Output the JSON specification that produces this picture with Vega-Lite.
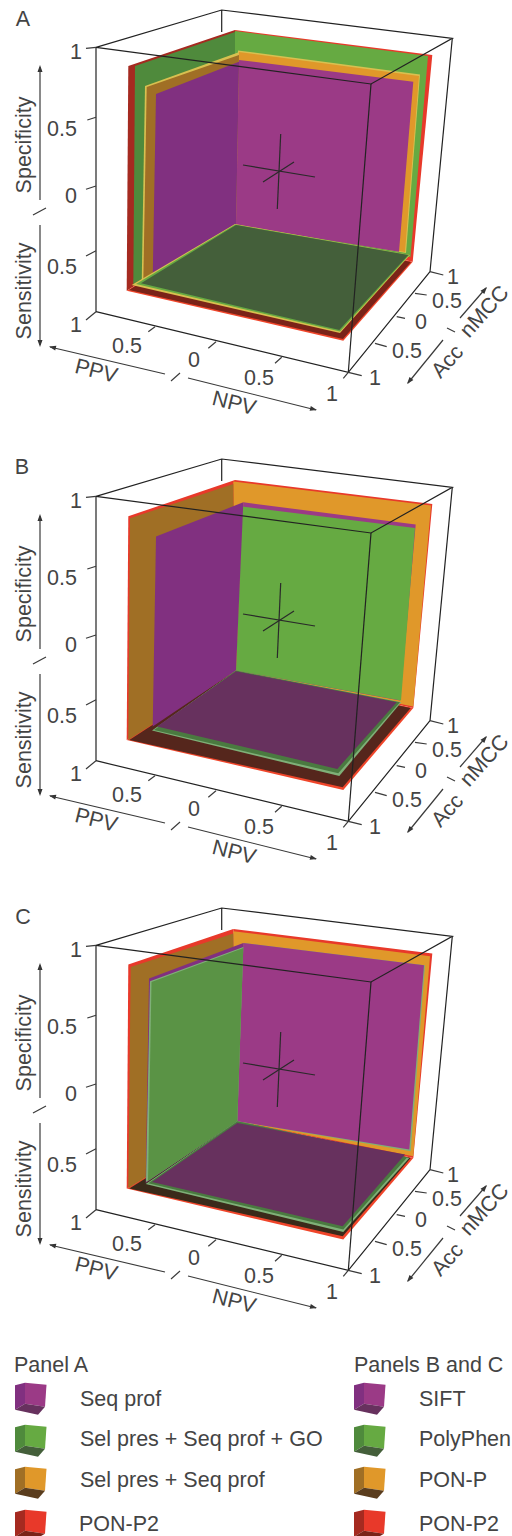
{"$schema":"https://vega.github.io/schema/vega-lite/v6.json","padding":0,"spacing":0,"config":{"view":{"stroke":null},"text":{"font":"Liberation Sans"}},
"datasets":{"panels":[
{"kind":"poly","panels":["A"],"shape":"a01","v":0,"x":235,"y":30,"paint":"R back"},{"kind":"poly","panels":["A"],"shape":"a01","v":1,"x":432.3,"y":55,"paint":"R back"},{"kind":"poly","panels":["A"],"shape":"a01","v":2,"x":412.7,"y":261.7,"paint":"R back"},{"kind":"poly","panels":["A"],"shape":"a01","v":3,"x":235,"y":224,"paint":"R back"},
{"kind":"poly","panels":["A"],"shape":"a02","v":0,"x":128.3,"y":66,"paint":"R left"},{"kind":"poly","panels":["A"],"shape":"a02","v":1,"x":235,"y":30,"paint":"R left"},{"kind":"poly","panels":["A"],"shape":"a02","v":2,"x":235,"y":224,"paint":"R left"},{"kind":"poly","panels":["A"],"shape":"a02","v":3,"x":126.7,"y":290.7,"paint":"R left"},
{"kind":"poly","panels":["A"],"shape":"a03","v":0,"x":126.7,"y":290.7,"paint":"R edge"},{"kind":"poly","panels":["A"],"shape":"a03","v":1,"x":235,"y":224,"paint":"R edge"},{"kind":"poly","panels":["A"],"shape":"a03","v":2,"x":412.7,"y":261.7,"paint":"R edge"},{"kind":"poly","panels":["A"],"shape":"a03","v":3,"x":343.3,"y":340.7,"paint":"R edge"},
{"kind":"poly","panels":["A"],"shape":"a04","v":0,"x":129,"y":290,"paint":"R floor"},{"kind":"poly","panels":["A"],"shape":"a04","v":1,"x":235,"y":224,"paint":"R floor"},{"kind":"poly","panels":["A"],"shape":"a04","v":2,"x":411,"y":262,"paint":"R floor"},{"kind":"poly","panels":["A"],"shape":"a04","v":3,"x":343,"y":339,"paint":"R floor"},
{"kind":"poly","panels":["A"],"shape":"a05","v":0,"x":235,"y":31,"paint":"G back"},{"kind":"poly","panels":["A"],"shape":"a05","v":1,"x":428,"y":56,"paint":"G back"},{"kind":"poly","panels":["A"],"shape":"a05","v":2,"x":410.5,"y":257,"paint":"G back"},{"kind":"poly","panels":["A"],"shape":"a05","v":3,"x":235,"y":224,"paint":"G back"},
{"kind":"poly","panels":["A"],"shape":"a06","v":0,"x":135,"y":66,"paint":"G left"},{"kind":"poly","panels":["A"],"shape":"a06","v":1,"x":235,"y":32,"paint":"G left"},{"kind":"poly","panels":["A"],"shape":"a06","v":2,"x":235,"y":224,"paint":"G left"},{"kind":"poly","panels":["A"],"shape":"a06","v":3,"x":133.3,"y":285,"paint":"G left"},
{"kind":"poly","panels":["A"],"shape":"a07","v":0,"x":238,"y":50.5,"paint":"O edge"},{"kind":"poly","panels":["A"],"shape":"a07","v":1,"x":420,"y":74.5,"paint":"O edge"},{"kind":"poly","panels":["A"],"shape":"a07","v":2,"x":406,"y":253,"paint":"O edge"},{"kind":"poly","panels":["A"],"shape":"a07","v":3,"x":236,"y":224,"paint":"O edge"},
{"kind":"poly","panels":["A"],"shape":"a08","v":0,"x":145,"y":86,"paint":"O edge"},{"kind":"poly","panels":["A"],"shape":"a08","v":1,"x":238,"y":52.5,"paint":"O edge"},{"kind":"poly","panels":["A"],"shape":"a08","v":2,"x":236,"y":224,"paint":"O edge"},{"kind":"poly","panels":["A"],"shape":"a08","v":3,"x":141.7,"y":283,"paint":"O edge"},
{"kind":"poly","panels":["A"],"shape":"a09","v":0,"x":239,"y":52,"paint":"O back"},{"kind":"poly","panels":["A"],"shape":"a09","v":1,"x":419,"y":76,"paint":"O back"},{"kind":"poly","panels":["A"],"shape":"a09","v":2,"x":405,"y":252,"paint":"O back"},{"kind":"poly","panels":["A"],"shape":"a09","v":3,"x":236,"y":224,"paint":"O back"},
{"kind":"poly","panels":["A"],"shape":"a10","v":0,"x":146.7,"y":87,"paint":"O left"},{"kind":"poly","panels":["A"],"shape":"a10","v":1,"x":239,"y":55,"paint":"O left"},{"kind":"poly","panels":["A"],"shape":"a10","v":2,"x":236,"y":224,"paint":"O left"},{"kind":"poly","panels":["A"],"shape":"a10","v":3,"x":143.3,"y":282,"paint":"O left"},
{"kind":"poly","panels":["A"],"shape":"a11","v":0,"x":239,"y":60,"paint":"P back"},{"kind":"poly","panels":["A"],"shape":"a11","v":1,"x":413.3,"y":81.7,"paint":"P back"},{"kind":"poly","panels":["A"],"shape":"a11","v":2,"x":399,"y":251.7,"paint":"P back"},{"kind":"poly","panels":["A"],"shape":"a11","v":3,"x":236,"y":225,"paint":"P back"},
{"kind":"poly","panels":["A"],"shape":"a12","v":0,"x":156,"y":94,"paint":"P left"},{"kind":"poly","panels":["A"],"shape":"a12","v":1,"x":239,"y":61.7,"paint":"P left"},{"kind":"poly","panels":["A"],"shape":"a12","v":2,"x":236,"y":225,"paint":"P left"},{"kind":"poly","panels":["A"],"shape":"a12","v":3,"x":152.7,"y":278.3,"paint":"P left"},
{"kind":"poly","panels":["A"],"shape":"a13","v":0,"x":131.7,"y":285,"paint":"O edge"},{"kind":"poly","panels":["A"],"shape":"a13","v":1,"x":235,"y":224,"paint":"O edge"},{"kind":"poly","panels":["A"],"shape":"a13","v":2,"x":410,"y":255,"paint":"O edge"},{"kind":"poly","panels":["A"],"shape":"a13","v":3,"x":340,"y":333,"paint":"O edge"},
{"kind":"poly","panels":["A"],"shape":"a14","v":0,"x":136,"y":284,"paint":"G back"},{"kind":"poly","panels":["A"],"shape":"a14","v":1,"x":235.3,"y":224.5,"paint":"G back"},{"kind":"poly","panels":["A"],"shape":"a14","v":2,"x":409.3,"y":255,"paint":"G back"},{"kind":"poly","panels":["A"],"shape":"a14","v":3,"x":340,"y":331.5,"paint":"G back"},
{"kind":"poly","panels":["A"],"shape":"a15","v":0,"x":141,"y":283.3,"paint":"G floor"},{"kind":"poly","panels":["A"],"shape":"a15","v":1,"x":236,"y":225,"paint":"G floor"},{"kind":"poly","panels":["A"],"shape":"a15","v":2,"x":408.3,"y":255,"paint":"G floor"},{"kind":"poly","panels":["A"],"shape":"a15","v":3,"x":339.3,"y":330,"paint":"G floor"},

{"kind":"poly","panels":["B"],"shape":"b01","v":0,"x":235,"y":30.9,"paint":"R back"},{"kind":"poly","panels":["B"],"shape":"b01","v":1,"x":432.3,"y":54.9,"paint":"R back"},{"kind":"poly","panels":["B"],"shape":"b01","v":2,"x":413.3,"y":258.9,"paint":"R back"},{"kind":"poly","panels":["B"],"shape":"b01","v":3,"x":235,"y":221.6,"paint":"R back"},
{"kind":"poly","panels":["B"],"shape":"b02","v":0,"x":128.3,"y":67.3,"paint":"R back"},{"kind":"poly","panels":["B"],"shape":"b02","v":1,"x":235,"y":30.9,"paint":"R back"},{"kind":"poly","panels":["B"],"shape":"b02","v":2,"x":235,"y":221.6,"paint":"R back"},{"kind":"poly","panels":["B"],"shape":"b02","v":3,"x":126.7,"y":290.9,"paint":"R back"},
{"kind":"poly","panels":["B"],"shape":"b03","v":0,"x":126.7,"y":290.9,"paint":"R edge"},{"kind":"poly","panels":["B"],"shape":"b03","v":1,"x":235,"y":221.6,"paint":"R edge"},{"kind":"poly","panels":["B"],"shape":"b03","v":2,"x":413.3,"y":258.9,"paint":"R edge"},{"kind":"poly","panels":["B"],"shape":"b03","v":3,"x":343.3,"y":340.9,"paint":"R edge"},
{"kind":"poly","panels":["B"],"shape":"b04","v":0,"x":233.3,"y":32.6,"paint":"O back"},{"kind":"poly","panels":["B"],"shape":"b04","v":1,"x":431,"y":56.6,"paint":"O back"},{"kind":"poly","panels":["B"],"shape":"b04","v":2,"x":413.3,"y":257.6,"paint":"O back"},{"kind":"poly","panels":["B"],"shape":"b04","v":3,"x":235,"y":221.6,"paint":"O back"},
{"kind":"poly","panels":["B"],"shape":"b05","v":0,"x":130,"y":69.3,"paint":"O left"},{"kind":"poly","panels":["B"],"shape":"b05","v":1,"x":233.3,"y":34.9,"paint":"O left"},{"kind":"poly","panels":["B"],"shape":"b05","v":2,"x":235,"y":221.6,"paint":"O left"},{"kind":"poly","panels":["B"],"shape":"b05","v":3,"x":128.3,"y":290.9,"paint":"O left"},
{"kind":"poly","panels":["B"],"shape":"b06","v":0,"x":129.3,"y":290.9,"paint":"B floor"},{"kind":"poly","panels":["B"],"shape":"b06","v":1,"x":235,"y":222.3,"paint":"B floor"},{"kind":"poly","panels":["B"],"shape":"b06","v":2,"x":410.7,"y":258.9,"paint":"B floor"},{"kind":"poly","panels":["B"],"shape":"b06","v":3,"x":342.7,"y":338.3,"paint":"B floor"},
{"kind":"poly","panels":["B"],"shape":"b07","v":0,"x":243.3,"y":53.3,"paint":"P back"},{"kind":"poly","panels":["B"],"shape":"b07","v":1,"x":415.7,"y":75.6,"paint":"P back"},{"kind":"poly","panels":["B"],"shape":"b07","v":2,"x":400,"y":251.6,"paint":"P back"},{"kind":"poly","panels":["B"],"shape":"b07","v":3,"x":236.7,"y":221.6,"paint":"P back"},
{"kind":"poly","panels":["B"],"shape":"b08","v":0,"x":242.3,"y":57.6,"paint":"G back"},{"kind":"poly","panels":["B"],"shape":"b08","v":1,"x":415,"y":78.9,"paint":"G back"},{"kind":"poly","panels":["B"],"shape":"b08","v":2,"x":401,"y":251.6,"paint":"G back"},{"kind":"poly","panels":["B"],"shape":"b08","v":3,"x":236,"y":221.6,"paint":"G back"},
{"kind":"poly","panels":["B"],"shape":"b09","v":0,"x":156,"y":87.6,"paint":"P left"},{"kind":"poly","panels":["B"],"shape":"b09","v":1,"x":243.3,"y":53.3,"paint":"P left"},{"kind":"poly","panels":["B"],"shape":"b09","v":2,"x":236,"y":221.6,"paint":"P left"},{"kind":"poly","panels":["B"],"shape":"b09","v":3,"x":152.7,"y":277.6,"paint":"P left"},
{"kind":"poly","panels":["B"],"shape":"b10","v":0,"x":152,"y":281.6,"paint":"G light"},{"kind":"poly","panels":["B"],"shape":"b10","v":1,"x":236,"y":221.6,"paint":"G light"},{"kind":"poly","panels":["B"],"shape":"b10","v":2,"x":401.3,"y":253.3,"paint":"G light"},{"kind":"poly","panels":["B"],"shape":"b10","v":3,"x":339.3,"y":326.9,"paint":"G light"},
{"kind":"poly","panels":["B"],"shape":"b11","v":0,"x":154,"y":280.9,"paint":"G dark"},{"kind":"poly","panels":["B"],"shape":"b11","v":1,"x":236,"y":221.6,"paint":"G dark"},{"kind":"poly","panels":["B"],"shape":"b11","v":2,"x":400,"y":253.3,"paint":"G dark"},{"kind":"poly","panels":["B"],"shape":"b11","v":3,"x":338.3,"y":324.3,"paint":"G dark"},
{"kind":"poly","panels":["B"],"shape":"b12","v":0,"x":157,"y":277.6,"paint":"P floor"},{"kind":"poly","panels":["B"],"shape":"b12","v":1,"x":236,"y":222.3,"paint":"P floor"},{"kind":"poly","panels":["B"],"shape":"b12","v":2,"x":396.7,"y":253.3,"paint":"P floor"},{"kind":"poly","panels":["B"],"shape":"b12","v":3,"x":337.3,"y":319.9,"paint":"P floor"},

{"kind":"poly","panels":["C"],"shape":"c01","v":0,"x":233.3,"y":30.9,"paint":"R back"},{"kind":"poly","panels":["C"],"shape":"c01","v":1,"x":432.3,"y":55.5,"paint":"R back"},{"kind":"poly","panels":["C"],"shape":"c01","v":2,"x":413.3,"y":259.9,"paint":"R back"},{"kind":"poly","panels":["C"],"shape":"c01","v":3,"x":237.3,"y":223.2,"paint":"R back"},
{"kind":"poly","panels":["C"],"shape":"c02","v":0,"x":128.3,"y":66.5,"paint":"R back"},{"kind":"poly","panels":["C"],"shape":"c02","v":1,"x":233.3,"y":30.9,"paint":"R back"},{"kind":"poly","panels":["C"],"shape":"c02","v":2,"x":237.3,"y":223.2,"paint":"R back"},{"kind":"poly","panels":["C"],"shape":"c02","v":3,"x":126.7,"y":290.5,"paint":"R back"},
{"kind":"poly","panels":["C"],"shape":"c03","v":0,"x":126.7,"y":290.5,"paint":"R edge"},{"kind":"poly","panels":["C"],"shape":"c03","v":1,"x":237.3,"y":223.2,"paint":"R edge"},{"kind":"poly","panels":["C"],"shape":"c03","v":2,"x":413.3,"y":259.9,"paint":"R edge"},{"kind":"poly","panels":["C"],"shape":"c03","v":3,"x":343.3,"y":341.5,"paint":"R edge"},
{"kind":"poly","panels":["C"],"shape":"c04","v":0,"x":233.3,"y":33.2,"paint":"O back"},{"kind":"poly","panels":["C"],"shape":"c04","v":1,"x":430,"y":58.2,"paint":"O back"},{"kind":"poly","panels":["C"],"shape":"c04","v":2,"x":413.3,"y":258.2,"paint":"O back"},{"kind":"poly","panels":["C"],"shape":"c04","v":3,"x":237.3,"y":223.2,"paint":"O back"},
{"kind":"poly","panels":["C"],"shape":"c05","v":0,"x":130.7,"y":68.9,"paint":"O left"},{"kind":"poly","panels":["C"],"shape":"c05","v":1,"x":233.3,"y":35.5,"paint":"O left"},{"kind":"poly","panels":["C"],"shape":"c05","v":2,"x":237.3,"y":223.2,"paint":"O left"},{"kind":"poly","panels":["C"],"shape":"c05","v":3,"x":128.3,"y":289.9,"paint":"O left"},
{"kind":"poly","panels":["C"],"shape":"c06","v":0,"x":129.3,"y":290.5,"paint":"C floor"},{"kind":"poly","panels":["C"],"shape":"c06","v":1,"x":237.3,"y":223.2,"paint":"C floor"},{"kind":"poly","panels":["C"],"shape":"c06","v":2,"x":410.7,"y":259.9,"paint":"C floor"},{"kind":"poly","panels":["C"],"shape":"c06","v":3,"x":342.7,"y":338.2,"paint":"C floor"},
{"kind":"poly","panels":["C"],"shape":"c07","v":0,"x":243.3,"y":44.9,"paint":"G light"},{"kind":"poly","panels":["C"],"shape":"c07","v":1,"x":425,"y":67.2,"paint":"G light"},{"kind":"poly","panels":["C"],"shape":"c07","v":2,"x":410.7,"y":253.2,"paint":"G light"},{"kind":"poly","panels":["C"],"shape":"c07","v":3,"x":237.3,"y":223.2,"paint":"G light"},
{"kind":"poly","panels":["C"],"shape":"c08","v":0,"x":243.3,"y":44.9,"paint":"P back"},{"kind":"poly","panels":["C"],"shape":"c08","v":1,"x":424,"y":67.2,"paint":"P back"},{"kind":"poly","panels":["C"],"shape":"c08","v":2,"x":409.3,"y":251.5,"paint":"P back"},{"kind":"poly","panels":["C"],"shape":"c08","v":3,"x":237.3,"y":223.2,"paint":"P back"},
{"kind":"poly","panels":["C"],"shape":"c09","v":0,"x":149,"y":80.5,"paint":"P left"},{"kind":"poly","panels":["C"],"shape":"c09","v":1,"x":243.3,"y":44.9,"paint":"P left"},{"kind":"poly","panels":["C"],"shape":"c09","v":2,"x":237.3,"y":223.2,"paint":"P left"},{"kind":"poly","panels":["C"],"shape":"c09","v":3,"x":145.7,"y":284.9,"paint":"P left"},
{"kind":"poly","panels":["C"],"shape":"c10","v":0,"x":150,"y":83.2,"paint":"G light"},{"kind":"poly","panels":["C"],"shape":"c10","v":1,"x":243.3,"y":48.9,"paint":"G light"},{"kind":"poly","panels":["C"],"shape":"c10","v":2,"x":237.3,"y":223.2,"paint":"G light"},{"kind":"poly","panels":["C"],"shape":"c10","v":3,"x":146,"y":284,"paint":"G light"},
{"kind":"poly","panels":["C"],"shape":"c11","v":0,"x":151.5,"y":84,"paint":"G wall"},{"kind":"poly","panels":["C"],"shape":"c11","v":1,"x":243.3,"y":50,"paint":"G wall"},{"kind":"poly","panels":["C"],"shape":"c11","v":2,"x":237.3,"y":223.2,"paint":"G wall"},{"kind":"poly","panels":["C"],"shape":"c11","v":3,"x":148,"y":283,"paint":"G wall"},
{"kind":"poly","panels":["C"],"shape":"c12","v":0,"x":145.7,"y":285.9,"paint":"G light"},{"kind":"poly","panels":["C"],"shape":"c12","v":1,"x":237.3,"y":223.2,"paint":"G light"},{"kind":"poly","panels":["C"],"shape":"c12","v":2,"x":409.3,"y":259.9,"paint":"G light"},{"kind":"poly","panels":["C"],"shape":"c12","v":3,"x":343.3,"y":333.9,"paint":"G light"},
{"kind":"poly","panels":["C"],"shape":"c13","v":0,"x":148.3,"y":285.2,"paint":"G dark"},{"kind":"poly","panels":["C"],"shape":"c13","v":1,"x":237.3,"y":223.2,"paint":"G dark"},{"kind":"poly","panels":["C"],"shape":"c13","v":2,"x":407.3,"y":259.2,"paint":"G dark"},{"kind":"poly","panels":["C"],"shape":"c13","v":3,"x":343.3,"y":331.5,"paint":"G dark"},
{"kind":"poly","panels":["C"],"shape":"c14","v":0,"x":152,"y":283.9,"paint":"P floor"},{"kind":"poly","panels":["C"],"shape":"c14","v":1,"x":237.3,"y":224.9,"paint":"P floor"},{"kind":"poly","panels":["C"],"shape":"c14","v":2,"x":405,"y":256.5,"paint":"P floor"},{"kind":"poly","panels":["C"],"shape":"c14","v":3,"x":342.7,"y":328.2,"paint":"P floor"},

{"kind":"line","panels":["A","B","C"],"shape":"f1","v":0,"x":96,"y":47.3,"paint":"frame"},{"kind":"line","panels":["A","B","C"],"shape":"f1","v":1,"x":221.7,"y":10,"paint":"frame"},{"kind":"line","panels":["A","B","C"],"shape":"f1","v":2,"x":452.3,"y":38.3,"paint":"frame"},{"kind":"line","panels":["A","B","C"],"shape":"f1","v":3,"x":371,"y":84,"paint":"frame"},{"kind":"line","panels":["A","B","C"],"shape":"f1","v":4,"x":96,"y":47.3,"paint":"frame"},
{"kind":"line","panels":["A","B","C"],"shape":"f2","v":0,"x":96,"y":47.3,"paint":"frame"},{"kind":"line","panels":["A","B","C"],"shape":"f2","v":1,"x":96,"y":311.7,"paint":"frame"},
{"kind":"line","panels":["A","B","C"],"shape":"f3","v":0,"x":371,"y":84,"paint":"frame"},{"kind":"line","panels":["A","B","C"],"shape":"f3","v":1,"x":348.3,"y":372.3,"paint":"frame"},
{"kind":"line","panels":["A","B","C"],"shape":"f4","v":0,"x":452.3,"y":38.3,"paint":"frame"},{"kind":"line","panels":["A","B","C"],"shape":"f4","v":1,"x":430,"y":271.7,"paint":"frame"},
{"kind":"line","panels":["A","B","C"],"shape":"f5","v":0,"x":96,"y":311.7,"paint":"frame"},{"kind":"line","panels":["A","B","C"],"shape":"f5","v":1,"x":348.3,"y":372.3,"paint":"frame"},{"kind":"line","panels":["A","B","C"],"shape":"f5","v":2,"x":430,"y":271.7,"paint":"frame"},
{"kind":"line","panels":["A","B","C"],"shape":"f6","v":0,"x":221.7,"y":10,"paint":"frame"},{"kind":"line","panels":["A","B","C"],"shape":"f6","v":1,"x":221.7,"y":32,"paint":"frame"},
{"kind":"line","panels":["A","B","C"],"shape":"t01","v":0,"x":86,"y":48.3,"paint":"tick"},{"kind":"line","panels":["A","B","C"],"shape":"t01","v":1,"x":96,"y":47.3,"paint":"tick"},
{"kind":"line","panels":["A","B","C"],"shape":"t02","v":0,"x":87.3,"y":120,"paint":"tick"},{"kind":"line","panels":["A","B","C"],"shape":"t02","v":1,"x":96,"y":117.3,"paint":"tick"},
{"kind":"line","panels":["A","B","C"],"shape":"t03","v":0,"x":86,"y":189.3,"paint":"tick"},{"kind":"line","panels":["A","B","C"],"shape":"t03","v":1,"x":96,"y":186,"paint":"tick"},
{"kind":"line","panels":["A","B","C"],"shape":"t04","v":0,"x":86,"y":256,"paint":"tick"},{"kind":"line","panels":["A","B","C"],"shape":"t04","v":1,"x":96,"y":250.7,"paint":"tick"},
{"kind":"line","panels":["A","B","C"],"shape":"t05","v":0,"x":86,"y":320,"paint":"tick"},{"kind":"line","panels":["A","B","C"],"shape":"t05","v":1,"x":96,"y":311.7,"paint":"tick"},
{"kind":"line","panels":["A","B","C"],"shape":"t06","v":0,"x":155,"y":326.7,"paint":"tick"},{"kind":"line","panels":["A","B","C"],"shape":"t06","v":1,"x":148.3,"y":331.7,"paint":"tick"},
{"kind":"line","panels":["A","B","C"],"shape":"t07","v":0,"x":216,"y":341.7,"paint":"tick"},{"kind":"line","panels":["A","B","C"],"shape":"t07","v":1,"x":208.3,"y":348.3,"paint":"tick"},
{"kind":"line","panels":["A","B","C"],"shape":"t08","v":0,"x":281.7,"y":357.3,"paint":"tick"},{"kind":"line","panels":["A","B","C"],"shape":"t08","v":1,"x":275,"y":363.3,"paint":"tick"},
{"kind":"line","panels":["A","B","C"],"shape":"t09","v":0,"x":348.3,"y":372.3,"paint":"tick"},{"kind":"line","panels":["A","B","C"],"shape":"t09","v":1,"x":343.3,"y":378.3,"paint":"tick"},
{"kind":"line","panels":["A","B","C"],"shape":"t10","v":0,"x":348.3,"y":372.3,"paint":"tick"},{"kind":"line","panels":["A","B","C"],"shape":"t10","v":1,"x":361.7,"y":375.7,"paint":"tick"},
{"kind":"line","panels":["A","B","C"],"shape":"t11","v":0,"x":375,"y":343.3,"paint":"tick"},{"kind":"line","panels":["A","B","C"],"shape":"t11","v":1,"x":386.7,"y":346.7,"paint":"tick"},
{"kind":"line","panels":["A","B","C"],"shape":"t12","v":0,"x":396.7,"y":316.7,"paint":"tick"},{"kind":"line","panels":["A","B","C"],"shape":"t12","v":1,"x":405,"y":318.3,"paint":"tick"},
{"kind":"line","panels":["A","B","C"],"shape":"t13","v":0,"x":415,"y":293.3,"paint":"tick"},{"kind":"line","panels":["A","B","C"],"shape":"t13","v":1,"x":426.7,"y":295,"paint":"tick"},
{"kind":"line","panels":["A","B","C"],"shape":"t14","v":0,"x":430,"y":271.7,"paint":"tick"},{"kind":"line","panels":["A","B","C"],"shape":"t14","v":1,"x":443.3,"y":275,"paint":"tick"},
{"kind":"line","panels":["A","B","C"],"shape":"x1","v":0,"x":280.7,"y":134,"paint":"cross"},{"kind":"line","panels":["A","B","C"],"shape":"x1","v":1,"x":277.3,"y":209,"paint":"cross"},
{"kind":"line","panels":["A","B","C"],"shape":"x2","v":0,"x":243,"y":165,"paint":"cross"},{"kind":"line","panels":["A","B","C"],"shape":"x2","v":1,"x":315,"y":177,"paint":"cross"},
{"kind":"line","panels":["A","B","C"],"shape":"x3","v":0,"x":263,"y":182,"paint":"cross"},{"kind":"line","panels":["A","B","C"],"shape":"x3","v":1,"x":294,"y":162,"paint":"cross"},
{"kind":"line","panels":["A","B","C"],"shape":"r1","v":0,"x":40,"y":67,"paint":"tick"},{"kind":"line","panels":["A","B","C"],"shape":"r1","v":1,"x":40,"y":200,"paint":"tick"},
{"kind":"line","panels":["A","B","C"],"shape":"r2","v":0,"x":33,"y":215,"paint":"tick"},{"kind":"line","panels":["A","B","C"],"shape":"r2","v":1,"x":46,"y":208,"paint":"tick"},
{"kind":"line","panels":["A","B","C"],"shape":"r3","v":0,"x":40,"y":225,"paint":"tick"},{"kind":"line","panels":["A","B","C"],"shape":"r3","v":1,"x":40,"y":345,"paint":"tick"},
{"kind":"line","panels":["A","B","C"],"shape":"r4","v":0,"x":50,"y":347,"paint":"tick"},{"kind":"line","panels":["A","B","C"],"shape":"r4","v":1,"x":165,"y":374,"paint":"tick"},
{"kind":"line","panels":["A","B","C"],"shape":"r5","v":0,"x":171,"y":381,"paint":"tick"},{"kind":"line","panels":["A","B","C"],"shape":"r5","v":1,"x":180,"y":373,"paint":"tick"},
{"kind":"line","panels":["A","B","C"],"shape":"r6","v":0,"x":188,"y":378,"paint":"tick"},{"kind":"line","panels":["A","B","C"],"shape":"r6","v":1,"x":316,"y":410,"paint":"tick"},
{"kind":"line","panels":["A","B","C"],"shape":"r7","v":0,"x":443,"y":340,"paint":"tick"},{"kind":"line","panels":["A","B","C"],"shape":"r7","v":1,"x":408,"y":383,"paint":"tick"},
{"kind":"line","panels":["A","B","C"],"shape":"r8","v":0,"x":447,"y":328,"paint":"tick"},{"kind":"line","panels":["A","B","C"],"shape":"r8","v":1,"x":455,"y":332,"paint":"tick"},
{"kind":"line","panels":["A","B","C"],"shape":"r9","v":0,"x":460,"y":318,"paint":"tick"},{"kind":"line","panels":["A","B","C"],"shape":"r9","v":1,"x":486,"y":288,"paint":"tick"},

{"kind":"head","panels":["A","B","C"],"shape":"h1","v":0,"x":40,"y":65,"paint":"ink"},{"kind":"head","panels":["A","B","C"],"shape":"h1","v":1,"x":37.5,"y":72,"paint":"ink"},{"kind":"head","panels":["A","B","C"],"shape":"h1","v":2,"x":42.5,"y":72,"paint":"ink"},
{"kind":"head","panels":["A","B","C"],"shape":"h2","v":0,"x":40,"y":347,"paint":"ink"},{"kind":"head","panels":["A","B","C"],"shape":"h2","v":1,"x":37.5,"y":340,"paint":"ink"},{"kind":"head","panels":["A","B","C"],"shape":"h2","v":2,"x":42.5,"y":340,"paint":"ink"},
{"kind":"head","panels":["A","B","C"],"shape":"h3","v":0,"x":49,"y":346.5,"paint":"ink"},{"kind":"head","panels":["A","B","C"],"shape":"h3","v":1,"x":55.2,"y":350.5,"paint":"ink"},{"kind":"head","panels":["A","B","C"],"shape":"h3","v":2,"x":56.4,"y":345.7,"paint":"ink"},
{"kind":"head","panels":["A","B","C"],"shape":"h4","v":0,"x":317,"y":410,"paint":"ink"},{"kind":"head","panels":["A","B","C"],"shape":"h4","v":1,"x":309.6,"y":410.8,"paint":"ink"},{"kind":"head","panels":["A","B","C"],"shape":"h4","v":2,"x":310.8,"y":406,"paint":"ink"},
{"kind":"head","panels":["A","B","C"],"shape":"h5","v":0,"x":407,"y":384,"paint":"ink"},{"kind":"head","panels":["A","B","C"],"shape":"h5","v":1,"x":413.4,"y":380.1,"paint":"ink"},{"kind":"head","panels":["A","B","C"],"shape":"h5","v":2,"x":409.5,"y":376.9,"paint":"ink"},
{"kind":"head","panels":["A","B","C"],"shape":"h6","v":0,"x":487,"y":287,"paint":"ink"},{"kind":"head","panels":["A","B","C"],"shape":"h6","v":1,"x":484.3,"y":293.9,"paint":"ink"},{"kind":"head","panels":["A","B","C"],"shape":"h6","v":2,"x":480.5,"y":290.7,"paint":"ink"},

{"kind":"t0","panels":["A"],"x":23,"y":20,"label":"A"},{"kind":"t0","panels":["B"],"x":22,"y":19,"label":"B"},{"kind":"t0","panels":["C"],"x":23,"y":20,"label":"C"},
{"kind":"t0","panels":["A","B","C"],"x":76,"y":53,"label":"1"},{"kind":"t0","panels":["A","B","C"],"x":62,"y":130,"label":"0.5"},{"kind":"t0","panels":["A","B","C"],"x":71,"y":197,"label":"0"},{"kind":"t0","panels":["A","B","C"],"x":62,"y":268,"label":"0.5"},{"kind":"t0","panels":["A","B","C"],"x":76,"y":326,"label":"1"},
{"kind":"t0","panels":["A","B","C"],"x":127,"y":347,"label":"0.5"},{"kind":"t0","panels":["A","B","C"],"x":194,"y":361,"label":"0"},{"kind":"t0","panels":["A","B","C"],"x":259,"y":379,"label":"0.5"},{"kind":"t0","panels":["A","B","C"],"x":332,"y":395,"label":"1"},
{"kind":"t0","panels":["A","B","C"],"x":375,"y":379,"label":"1"},{"kind":"t0","panels":["A","B","C"],"x":407,"y":352,"label":"0.5"},{"kind":"t0","panels":["A","B","C"],"x":421,"y":323,"label":"0"},{"kind":"t0","panels":["A","B","C"],"x":447,"y":302,"label":"0.5"},{"kind":"t0","panels":["A","B","C"],"x":453,"y":278,"label":"1"},
{"kind":"tv","panels":["A","B","C"],"x":25,"y":145,"label":"Specificity"},{"kind":"tv","panels":["A","B","C"],"x":25,"y":291,"label":"Sensitivity"},
{"kind":"tp","panels":["A","B","C"],"x":96,"y":372,"label":"PPV"},{"kind":"tp","panels":["A","B","C"],"x":234,"y":404,"label":"NPV"},
{"kind":"ta","panels":["A","B","C"],"x":448,"y":362,"label":"Acc"},{"kind":"ta","panels":["A","B","C"],"x":485,"y":312,"label":"nMCC"}
],
"legend":[
{"shape":"l1","v":0,"x":15,"y":1383.5,"paint":"P left"},{"shape":"l1","v":1,"x":25,"y":1381,"paint":"P left"},{"shape":"l1","v":2,"x":25,"y":1402,"paint":"P left"},{"shape":"l1","v":3,"x":15,"y":1408,"paint":"P left"},
{"shape":"l2","v":0,"x":25,"y":1381,"paint":"P back"},{"shape":"l2","v":1,"x":46.5,"y":1383,"paint":"P back"},{"shape":"l2","v":2,"x":45,"y":1405,"paint":"P back"},{"shape":"l2","v":3,"x":25,"y":1402,"paint":"P back"},
{"shape":"l3","v":0,"x":15,"y":1408,"paint":"P floor"},{"shape":"l3","v":1,"x":25,"y":1402,"paint":"P floor"},{"shape":"l3","v":2,"x":45,"y":1405,"paint":"P floor"},{"shape":"l3","v":3,"x":38,"y":1413,"paint":"P floor"},
{"shape":"l4","v":0,"x":15,"y":1425.5,"paint":"G left"},{"shape":"l4","v":1,"x":25,"y":1423,"paint":"G left"},{"shape":"l4","v":2,"x":25,"y":1444,"paint":"G left"},{"shape":"l4","v":3,"x":15,"y":1450,"paint":"G left"},
{"shape":"l5","v":0,"x":25,"y":1423,"paint":"G back"},{"shape":"l5","v":1,"x":46.5,"y":1425,"paint":"G back"},{"shape":"l5","v":2,"x":45,"y":1447,"paint":"G back"},{"shape":"l5","v":3,"x":25,"y":1444,"paint":"G back"},
{"shape":"l6","v":0,"x":15,"y":1450,"paint":"G floor"},{"shape":"l6","v":1,"x":25,"y":1444,"paint":"G floor"},{"shape":"l6","v":2,"x":45,"y":1447,"paint":"G floor"},{"shape":"l6","v":3,"x":38,"y":1455,"paint":"G floor"},
{"shape":"l7","v":0,"x":15,"y":1467.5,"paint":"O left"},{"shape":"l7","v":1,"x":25,"y":1465,"paint":"O left"},{"shape":"l7","v":2,"x":25,"y":1486,"paint":"O left"},{"shape":"l7","v":3,"x":15,"y":1492,"paint":"O left"},
{"shape":"l8","v":0,"x":25,"y":1465,"paint":"O back"},{"shape":"l8","v":1,"x":46.5,"y":1467,"paint":"O back"},{"shape":"l8","v":2,"x":45,"y":1489,"paint":"O back"},{"shape":"l8","v":3,"x":25,"y":1486,"paint":"O back"},
{"shape":"l9","v":0,"x":15,"y":1492,"paint":"O floor"},{"shape":"l9","v":1,"x":25,"y":1486,"paint":"O floor"},{"shape":"l9","v":2,"x":45,"y":1489,"paint":"O floor"},{"shape":"l9","v":3,"x":38,"y":1497,"paint":"O floor"},
{"shape":"m1","v":0,"x":15,"y":1510.5,"paint":"R left"},{"shape":"m1","v":1,"x":25,"y":1508,"paint":"R left"},{"shape":"m1","v":2,"x":25,"y":1529,"paint":"R left"},{"shape":"m1","v":3,"x":15,"y":1535,"paint":"R left"},
{"shape":"m2","v":0,"x":25,"y":1508,"paint":"R back"},{"shape":"m2","v":1,"x":46.5,"y":1510,"paint":"R back"},{"shape":"m2","v":2,"x":45,"y":1532,"paint":"R back"},{"shape":"m2","v":3,"x":25,"y":1529,"paint":"R back"},
{"shape":"m3","v":0,"x":15,"y":1535,"paint":"R floor"},{"shape":"m3","v":1,"x":25,"y":1529,"paint":"R floor"},{"shape":"m3","v":2,"x":45,"y":1532,"paint":"R floor"},{"shape":"m3","v":3,"x":38,"y":1536,"paint":"R floor"},
{"shape":"n1","v":0,"x":354,"y":1383.5,"paint":"P left"},{"shape":"n1","v":1,"x":364,"y":1381,"paint":"P left"},{"shape":"n1","v":2,"x":364,"y":1402,"paint":"P left"},{"shape":"n1","v":3,"x":354,"y":1408,"paint":"P left"},
{"shape":"n2","v":0,"x":364,"y":1381,"paint":"P back"},{"shape":"n2","v":1,"x":385.5,"y":1383,"paint":"P back"},{"shape":"n2","v":2,"x":384,"y":1405,"paint":"P back"},{"shape":"n2","v":3,"x":364,"y":1402,"paint":"P back"},
{"shape":"n3","v":0,"x":354,"y":1408,"paint":"P floor"},{"shape":"n3","v":1,"x":364,"y":1402,"paint":"P floor"},{"shape":"n3","v":2,"x":384,"y":1405,"paint":"P floor"},{"shape":"n3","v":3,"x":377,"y":1413,"paint":"P floor"},
{"shape":"n4","v":0,"x":354,"y":1425.5,"paint":"G left"},{"shape":"n4","v":1,"x":364,"y":1423,"paint":"G left"},{"shape":"n4","v":2,"x":364,"y":1444,"paint":"G left"},{"shape":"n4","v":3,"x":354,"y":1450,"paint":"G left"},
{"shape":"n5","v":0,"x":364,"y":1423,"paint":"G back"},{"shape":"n5","v":1,"x":385.5,"y":1425,"paint":"G back"},{"shape":"n5","v":2,"x":384,"y":1447,"paint":"G back"},{"shape":"n5","v":3,"x":364,"y":1444,"paint":"G back"},
{"shape":"n6","v":0,"x":354,"y":1450,"paint":"G floor"},{"shape":"n6","v":1,"x":364,"y":1444,"paint":"G floor"},{"shape":"n6","v":2,"x":384,"y":1447,"paint":"G floor"},{"shape":"n6","v":3,"x":377,"y":1455,"paint":"G floor"},
{"shape":"n7","v":0,"x":354,"y":1467.5,"paint":"O left"},{"shape":"n7","v":1,"x":364,"y":1465,"paint":"O left"},{"shape":"n7","v":2,"x":364,"y":1486,"paint":"O left"},{"shape":"n7","v":3,"x":354,"y":1492,"paint":"O left"},
{"shape":"n8","v":0,"x":364,"y":1465,"paint":"O back"},{"shape":"n8","v":1,"x":385.5,"y":1467,"paint":"O back"},{"shape":"n8","v":2,"x":384,"y":1489,"paint":"O back"},{"shape":"n8","v":3,"x":364,"y":1486,"paint":"O back"},
{"shape":"n9","v":0,"x":354,"y":1492,"paint":"O floor"},{"shape":"n9","v":1,"x":364,"y":1486,"paint":"O floor"},{"shape":"n9","v":2,"x":384,"y":1489,"paint":"O floor"},{"shape":"n9","v":3,"x":377,"y":1497,"paint":"O floor"},
{"shape":"o1","v":0,"x":354,"y":1510.5,"paint":"R left"},{"shape":"o1","v":1,"x":364,"y":1508,"paint":"R left"},{"shape":"o1","v":2,"x":364,"y":1529,"paint":"R left"},{"shape":"o1","v":3,"x":354,"y":1535,"paint":"R left"},
{"shape":"o2","v":0,"x":364,"y":1508,"paint":"R back"},{"shape":"o2","v":1,"x":385.5,"y":1510,"paint":"R back"},{"shape":"o2","v":2,"x":384,"y":1532,"paint":"R back"},{"shape":"o2","v":3,"x":364,"y":1529,"paint":"R back"},
{"shape":"o3","v":0,"x":354,"y":1535,"paint":"R floor"},{"shape":"o3","v":1,"x":364,"y":1529,"paint":"R floor"},{"shape":"o3","v":2,"x":384,"y":1532,"paint":"R floor"},{"shape":"o3","v":3,"x":377,"y":1536,"paint":"R floor"},
{"x":14,"y":1364,"label":"Panel A"},{"x":354,"y":1364,"label":"Panels B and C"},
{"x":80,"y":1398,"label":"Seq prof"},{"x":80,"y":1438,"label":"Sel pres + Seq prof + GO"},{"x":80,"y":1479,"label":"Sel pres + Seq prof"},{"x":79,"y":1523,"label":"PON-P2"},
{"x":419,"y":1398,"label":"SIFT"},{"x":419,"y":1438,"label":"PolyPhen"},{"x":419,"y":1479,"label":"PON-P"},{"x":419,"y":1523,"label":"PON-P2"}
]},
"vconcat":[
{"data":{"name":"panels"},"transform":[{"flatten":["panels"],"as":["panel"]}],"spacing":0,
"facet":{"row":{"field":"panel","type":"nominal","header":null}},
"spec":{"width":512,"height":448.4,
"encoding":{"x":{"field":"x","type":"quantitative","axis":null,"scale":{"domain":[0,512],"nice":false,"zero":false}},"y":{"field":"y","type":"quantitative","axis":null,"scale":{"domain":[448.4,0],"nice":false,"zero":false}}},
"layer":[
{"transform":[{"filter":"datum.kind=='poly'||datum.kind=='head'"}],"mark":{"type":"line","strokeWidth":0},"encoding":{"detail":{"field":"shape"},"order":{"field":"v","type":"quantitative"},"fill":{"field":"paint","type":"nominal","legend":null,"scale":{"domain":["R back","R left","R floor","R edge","O back","O left","O floor","O edge","G back","G left","G wall","G floor","G light","G dark","P back","P left","P floor","B floor","C floor","ink"],"range":["#e8392a","#a52a20","#7a2318","#f0452a","#e0982a","#a06f25","#5a3d1e","#d8c050","#66aa42","#4f8a3c","#5a9345","#445f3a","#7fb078","#4a7a40","#9b3a86","#813080","#67315e","#55261c","#3a2a1a","#333333"]}}}},
{"transform":[{"filter":"datum.kind=='line'"}],"mark":{"type":"line","strokeWidth":1.2},"encoding":{"detail":{"field":"shape"},"order":{"field":"v","type":"quantitative"},"stroke":{"field":"paint","type":"nominal","legend":null,"scale":{"domain":["frame","tick","cross"],"range":["#222222","#3a3a3a","#2a2a2a"]}}}},
{"transform":[{"filter":"datum.kind=='t0'"}],"mark":{"type":"text","font":"Liberation Sans","fontSize":21.5,"color":"#444444","align":"center","baseline":"middle"},"encoding":{"text":{"field":"label"}}},
{"transform":[{"filter":"datum.kind=='tv'"}],"mark":{"type":"text","font":"Liberation Sans","fontSize":21.5,"color":"#444444","align":"center","baseline":"middle","angle":270},"encoding":{"text":{"field":"label"}}},
{"transform":[{"filter":"datum.kind=='tp'"}],"mark":{"type":"text","font":"Liberation Sans","fontSize":21.5,"color":"#444444","align":"center","baseline":"middle","angle":14},"encoding":{"text":{"field":"label"}}},
{"transform":[{"filter":"datum.kind=='ta'"}],"mark":{"type":"text","font":"Liberation Sans","fontSize":21.5,"color":"#444444","align":"center","baseline":"middle","angle":312},"encoding":{"text":{"field":"label"}}}
]}},
{"data":{"name":"legend"},"width":512,"height":190.8,
"encoding":{"x":{"field":"x","type":"quantitative","axis":null,"scale":{"domain":[0,512],"nice":false,"zero":false}},"y":{"field":"y","type":"quantitative","axis":null,"scale":{"domain":[1536,1345.2],"nice":false,"zero":false}}},
"layer":[
{"transform":[{"filter":"isValid(datum.shape)"}],"mark":{"type":"line","strokeWidth":0},"encoding":{"detail":{"field":"shape"},"order":{"field":"v","type":"quantitative"},"fill":{"field":"paint","type":"nominal","legend":null,"scale":{"domain":["R back","R left","R floor","O back","O left","O floor","G back","G left","G floor","P back","P left","P floor"],"range":["#e8392a","#a52a20","#7a2318","#e0982a","#a06f25","#5a3d1e","#66aa42","#4f8a3c","#445f3a","#9b3a86","#813080","#67315e"]}}}},
{"transform":[{"filter":"isValid(datum.label)"}],"mark":{"type":"text","font":"Liberation Sans","fontSize":21.5,"color":"#444444","align":"left","baseline":"middle"},"encoding":{"text":{"field":"label"}}}
]}
]}
